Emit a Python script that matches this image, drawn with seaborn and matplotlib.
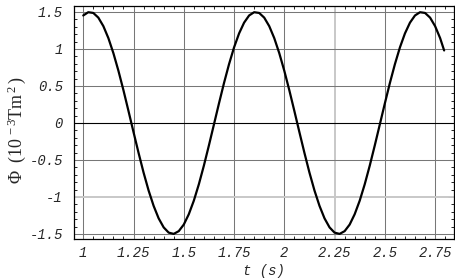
import matplotlib
matplotlib.use("Agg")
import matplotlib.pyplot as plt
import seaborn as sns
import pandas as pd
from matplotlib.ticker import MultipleLocator, FixedLocator

# data
t_vals = [1.000, 1.025, 1.050, 1.075, 1.100, 1.125, 1.150, 1.175, 1.200, 1.225,
          1.250, 1.275, 1.300, 1.325, 1.350, 1.375, 1.400, 1.425, 1.450, 1.475,
          1.500, 1.525, 1.550, 1.575, 1.600, 1.625, 1.650, 1.675, 1.700, 1.725,
          1.750, 1.775, 1.800, 1.825, 1.850, 1.875, 1.900, 1.925, 1.950, 1.975,
          2.000, 2.025, 2.050, 2.075, 2.100, 2.125, 2.150, 2.175, 2.200, 2.225,
          2.250, 2.275, 2.300, 2.325, 2.350, 2.375, 2.400, 2.425, 2.450, 2.475,
          2.500, 2.525, 2.550, 2.575, 2.600, 2.625, 2.650, 2.675, 2.700, 2.725,
          2.750, 2.775, 2.795]
phi_vals = [1.453, 1.497, 1.487, 1.424, 1.309, 1.147, 0.943, 0.705, 0.442, 0.162,
            -0.123, -0.403, -0.670, -0.912, -1.120, -1.289, -1.411, -1.482, -1.499, -1.462,
            -1.373, -1.233, -1.050, -0.828, -0.576, -0.303, -0.020, 0.264, 0.539, 0.794,
            1.021, 1.210, 1.356, 1.453, 1.497, 1.487, 1.424, 1.309, 1.147, 0.943,
            0.705, 0.442, 0.162, -0.123, -0.403, -0.670, -0.912, -1.120, -1.289, -1.411,
            -1.482, -1.499, -1.462, -1.373, -1.233, -1.050, -0.828, -0.576, -0.303, -0.020,
            0.264, 0.539, 0.794, 1.021, 1.210, 1.356, 1.453, 1.497, 1.487, 1.424,
            1.309, 1.147, 0.980]

x_ticks = [1, 1.25, 1.5, 1.75, 2, 2.25, 2.5, 2.75]
x_tick_labels = ["1", "1.25", "1.5", "1.75", "2", "2.25", "2.5", "2.75"]
y_ticks = [-1.5, -1, -0.5, 0, 0.5, 1, 1.5]
y_tick_labels = ["-1.5", "-1", "-0.5", "0", "0.5", "1", "1.5"]
light_x = [2.25]
light_y = [-1]

sns.set_style("white")
plt.rcParams["mathtext.fontset"] = "custom"
plt.rcParams["mathtext.rm"] = "Liberation Serif"
plt.rcParams["mathtext.it"] = "Liberation Serif:italic"

W, H = 455, 278
fig = plt.figure(figsize=(W / 100, H / 100), dpi=100)
ax = fig.add_axes([74/W, 1-239/H, (454-74)/W, (239-6)/H])

df = pd.DataFrame({"t": t_vals, "phi": phi_vals})

# grid
for xv in x_ticks:
    if xv in light_x:
        ax.axvline(xv, color="#c8c8c8", lw=1.4, zorder=1)
    else:
        ax.axvline(xv, color="#777777", lw=0.75, zorder=1)
for yv in y_ticks:
    if yv == 0:
        ax.axhline(yv, color="black", lw=0.8, zorder=1)
    elif yv in light_y:
        ax.axhline(yv, color="#c8c8c8", lw=1.4, zorder=1)
    else:
        ax.axhline(yv, color="#777777", lw=0.75, zorder=1)

sns.lineplot(data=df, x="t", y="phi", ax=ax, color="black", lw=1.6, zorder=3,
             sort=False, estimator=None)

ax.set_xlim(0.954, 2.844)
ax.set_ylim(-1.568, 1.581)

ax.xaxis.set_major_locator(FixedLocator(x_ticks))
ax.yaxis.set_major_locator(FixedLocator(y_ticks))
ax.xaxis.set_minor_locator(MultipleLocator(0.05))
ax.yaxis.set_minor_locator(MultipleLocator(0.1))
mono = {"family": "Liberation Mono", "style": "italic", "size": 10}
ax.set_xticklabels(x_tick_labels, fontdict=mono)
ax.set_yticklabels(y_tick_labels, fontdict=mono)

ax.tick_params(which="both", direction="in", top=True, right=True,
               bottom=True, left=True, color="black", width=0.6)
ax.tick_params(which="major", length=4)
ax.tick_params(which="minor", length=2)
ax.tick_params(axis="x", which="major", pad=5)
ax.tick_params(axis="y", which="major", pad=8)

for s in ax.spines.values():
    s.set_color("black")
    s.set_linewidth(0.9)

ax.set_xlabel("t (s)", fontdict=mono, labelpad=3)
ax.set_ylabel("")
fig.text(17/W, 1-130/H, r"$\Phi\ \ (10^{\,-3}\mathrm{Tm}^{\,2}\,)$", fontsize=13,
         rotation=90, ha="center", va="center")

fig.savefig("out.png", dpi=100)
